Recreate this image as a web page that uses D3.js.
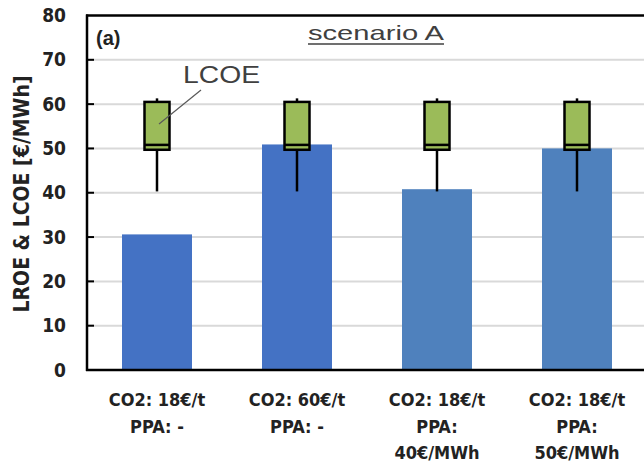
<!DOCTYPE html>
<html><head><meta charset="utf-8">
<script src="https://cdn.jsdelivr.net/npm/d3@7"></script>
<style>
body{margin:0;background:#fff;}
svg{display:block;}
</style></head>
<body>
<svg id="c" width="644" height="466"></svg>
<script>
const categories = ["CO2: 18€/t\nPPA: -", "CO2: 60€/t\nPPA: -", "CO2: 18€/t\nPPA:\n40€/MWh", "CO2: 18€/t\nPPA:\n50€/MWh"];
const lroe = [30.6, 50.9, 40.8, 50.0];
const lcoeMin = [40.3, 40.3, 40.3, 40.3];
const lcoeQ1 = [49.7, 49.7, 49.7, 49.7];
const lcoeMedian = [50.8, 50.8, 50.8, 50.8];
const lcoeQ3 = [60.5, 60.5, 60.5, 60.5];
const lcoeMax = [61.3, 61.3, 61.3, 61.3];
const yTicks = [0, 10, 20, 30, 40, 50, 60, 70, 80];
const barColors = ["#4472C4", "#4472C4", "#4F81BD", "#4F81BD"];

const svg = d3.select("#c");
const pL = 87, pR = 647, pT = 15.5, pB = 370;
const x = d3.scaleBand().domain(categories).range([pL, pR]).paddingInner(0.5).paddingOuter(0.25);
const y = d3.scaleLinear().domain([0, 80]).range([pB, pT]);

const labelFont = "'DejaVu Sans Condensed','DejaVu Sans',sans-serif";

// gridlines
svg.append("g").selectAll("line").data(yTicks.filter(d => d > 0 && d < 80)).join("line")
  .attr("x1", pL).attr("x2", 644).attr("y1", d => y(d)).attr("y2", d => y(d))
  .attr("stroke", "#d9d9d9").attr("stroke-width", 2);

// bars
svg.append("g").selectAll("rect").data(lroe).join("rect")
  .attr("x", (d, i) => x(categories[i])).attr("width", x.bandwidth())
  .attr("y", d => y(d)).attr("height", d => pB - y(d))
  .attr("fill", (d, i) => barColors[i]);

// box plots
const bw = 25;
const boxes = svg.append("g").selectAll("g").data(categories).join("g");
boxes.append("line")
  .attr("x1", d => x(d) + x.bandwidth() / 2).attr("x2", d => x(d) + x.bandwidth() / 2)
  .attr("y1", (d, i) => y(lcoeMin[i])).attr("y2", (d, i) => y(lcoeMax[i]))
  .attr("stroke", "#000").attr("stroke-width", 2.5);
boxes.append("rect")
  .attr("x", d => x(d) + x.bandwidth() / 2 - bw / 2).attr("width", bw)
  .attr("y", (d, i) => y(lcoeQ3[i])).attr("height", (d, i) => y(lcoeQ1[i]) - y(lcoeQ3[i]))
  .attr("fill", "#9BBB59").attr("stroke", "#000").attr("stroke-width", 2.5);
boxes.append("line")
  .attr("x1", d => x(d) + x.bandwidth() / 2 - bw / 2).attr("x2", d => x(d) + x.bandwidth() / 2 + bw / 2)
  .attr("y1", (d, i) => y(lcoeMedian[i])).attr("y2", (d, i) => y(lcoeMedian[i]))
  .attr("stroke", "#000").attr("stroke-width", 2.5);

// y axis
const yAxis = svg.append("g").attr("transform", `translate(${pL},0)`)
  .call(d3.axisLeft(y).tickValues(yTicks).tickSize(0).tickPadding(21));
yAxis.select(".domain").remove();
yAxis.selectAll("text").attr("font-family", labelFont).attr("font-weight", "bold")
  .attr("font-size", 19).attr("fill", "#222");
// inner tick marks
svg.append("g").selectAll("line").data(yTicks.filter(d => d > 0 && d < 80)).join("line")
  .attr("x1", pL).attr("x2", pL + 7).attr("y1", d => y(d)).attr("y2", d => y(d))
  .attr("stroke", "#000").attr("stroke-width", 2);

// frame lines
svg.append("line").attr("x1", pL).attr("x2", pL).attr("y1", pT - 1).attr("y2", pB + 1)
  .attr("stroke", "#000").attr("stroke-width", 2.5);
svg.append("line").attr("x1", pL - 1).attr("x2", 644).attr("y1", pT).attr("y2", pT)
  .attr("stroke", "#000").attr("stroke-width", 2.5);
svg.append("line").attr("x1", pL - 1).attr("x2", 644).attr("y1", pB).attr("y2", pB)
  .attr("stroke", "#000").attr("stroke-width", 2.5);

// x axis labels
const xAxis = svg.append("g").attr("transform", `translate(0,${pB})`)
  .call(d3.axisBottom(x).tickSize(0).tickFormat(""));
xAxis.select(".domain").remove();
xAxis.selectAll(".tick").each(function(d) {
  const t = d3.select(this).append("text")
    .attr("font-family", labelFont).attr("font-weight", "bold").attr("font-size", 18)
    .attr("fill", "#222").attr("text-anchor", "middle");
  d.split("\n").forEach((line, i) => {
    t.append("tspan").attr("x", 0).attr("y", 36 + i * 26.5).text(line);
  });
});

// y title
svg.append("text").attr("transform", "translate(29,194) rotate(-90)")
  .attr("text-anchor", "middle").attr("font-family", labelFont).attr("font-weight", "bold")
  .attr("font-size", 21).attr("fill", "#222").text("LROE & LCOE [€/MWh]");

// panel label
svg.append("text").attr("x", 96).attr("y", 45).attr("font-family", "'Liberation Sans',Arial,sans-serif")
  .attr("font-weight", "bold").attr("font-size", 20).attr("fill", "#222").text("(a)");

// title
svg.append("text").attr("x", 308).attr("y", 40).attr("font-family", "'Liberation Sans',Arial,sans-serif")
  .attr("font-size", 21).attr("fill", "#404040").attr("textLength", 136).attr("lengthAdjust", "spacingAndGlyphs")
  .text("scenario A");
svg.append("line").attr("x1", 308).attr("x2", 444).attr("y1", 44).attr("y2", 44)
  .attr("stroke", "#404040").attr("stroke-width", 1.5);

// LCOE annotation
const c0 = x(categories[0]) + x.bandwidth() / 2;
svg.append("line").attr("x1", 201).attr("y1", 90).attr("x2", c0 + 2).attr("y2", y(55.5))
  .attr("stroke", "#595959").attr("stroke-width", 1.2);
svg.append("text").attr("x", 183).attr("y", 83).attr("font-family", "'Liberation Sans',Arial,sans-serif")
  .attr("font-size", 24).attr("fill", "#404040").attr("textLength", 77).attr("lengthAdjust", "spacingAndGlyphs")
  .text("LCOE");
</script>
</body></html>
